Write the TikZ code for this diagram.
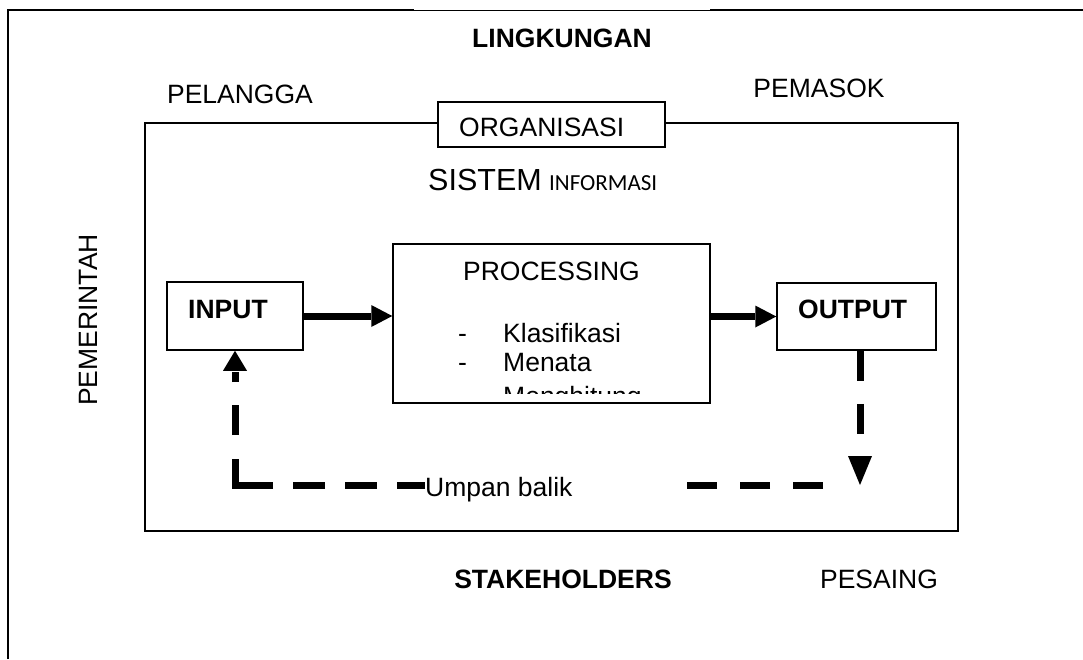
\documentclass[tikz,border=0pt]{standalone}
\usepackage{fontspec}
\setmainfont{Liberation Sans}
\newfontfamily\calibrifont{Carlito}
\usetikzlibrary{arrows.meta}

\begin{document}
\begin{tikzpicture}[x=1pt, y=-1pt,
    box/.style={draw, line width=1.5pt, inner sep=0pt},
    lbl/.style={font=\fontsize{26.5}{30}\selectfont, inner sep=0pt},
    bold/.style={font=\fontsize{26.5}{30}\selectfont\bfseries, inner sep=0pt},
    flow/.style={line width=7pt, -{Triangle[length=21pt, width=22pt, line width=0pt]}},
    feedback/.style={line width=7pt, dash pattern=on 30pt off 23pt}]
      \useasboundingbox (0,0) rectangle (1083,659);

      % lingkungan frame
      \draw[line width=2pt] (8,659) -- (8,10) -- (414,10);
      \draw[line width=1pt] (414,10) -- (710,10);
      \draw[line width=2pt] (710,10) -- (1083,10);

      \node[bold, anchor=base] (lingkungan) at (562,47) {LINGKUNGAN};
      \node[lbl, anchor=base] (pelangga) at (240,103) {PELANGGA};
      \node[lbl, anchor=base] (pemasok) at (819,97) {PEMASOK};
      \node[lbl, anchor=base, rotate=90] (pemerintah) at (97,320) {PEMERINTAH};
      \node[bold, anchor=base] (stakeholders) at (563,588) {STAKEHOLDERS};
      \node[lbl, anchor=base] (pesaing) at (879,588) {PESAING};

      % organisasi
      \node[box, minimum width=813pt, minimum height=408pt] (org) at (551.5,327) {};
      \node[box, fill=white, minimum width=227pt, minimum height=45pt] (orgtab) at (551.5,124.5) {};
      \node[lbl, anchor=base west] (orgtext) at (459,136) {ORGANISASI};
      \node[lbl, anchor=base west] (si) at (428,190) {{\fontsize{30.5}{34}\selectfont SISTEM} {\calibrifont\fontsize{23}{27}\selectfont INFORMASI}};

      % input - processing - output
      \node[box, minimum width=136pt, minimum height=68pt] (input) at (235,316) {};
      \node[bold, anchor=base west] (inputtext) at (188,318) {INPUT};
      \node[box, minimum width=317pt, minimum height=159pt] (proc) at (551.5,323.5) {};
      \node[box, minimum width=159pt, minimum height=67pt] (output) at (856.5,316.5) {};
      \node[bold, anchor=base west] (outputtext) at (798,318) {OUTPUT};

      \begin{scope}
        \clip (proc.north west) rectangle ([yshift=10pt]proc.south east);
        \node[lbl, anchor=base] (proctitle) at (551.5,280) {PROCESSING};
        \node[lbl, anchor=base west] (step1) at (458,342) {\makebox[45pt][l]{-}Klasifikasi};
        \node[lbl, anchor=base west] (step2) at (458,371) {\makebox[45pt][l]{-}Menata};
        \node[lbl, anchor=base west] (step3) at (458,405) {\makebox[45pt][l]{-}Menghitung};
      \end{scope}

      \draw[flow] (input.east) -- (input.east -| proc.west);
      \draw[flow] (proc.east |- output.west) -- (output.west);

      % umpan balik
      \coordinate (fb) at (0,485);
      \coordinate (fbA) at (823,485);
      \coordinate (fbB) at (687,485);
      \node[lbl, anchor=base west] (umpan) at (425,496) {Umpan balik};
      \draw[feedback, -{Triangle[length=29pt, width=24pt, line width=0pt]}] ([xshift=3.5pt]output.south) -- ([xshift=3.5pt]output.south |- fb);
      \draw[feedback] (fbA) -- (fbB);
      \draw[feedback, -{Triangle[length=20pt, width=24pt, line width=0pt]},
        dash pattern=on 28pt off 20pt on 32pt off 20pt on 32pt off 20pt on 64pt off 24pt on 30pt off 23pt on 10pt off 100pt]
        (umpan.west |- fb) -- (input.south |- fb) -- (input.south);
\end{tikzpicture}
\end{document}
